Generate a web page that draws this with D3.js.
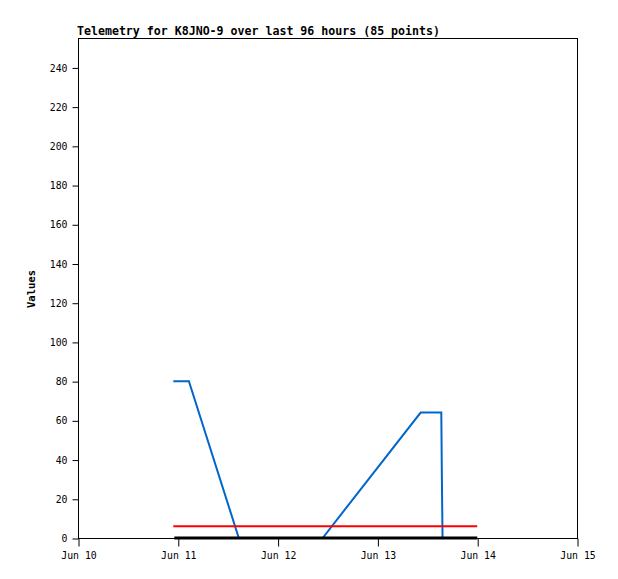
<!DOCTYPE html>
<html>
<head>
<meta charset="utf-8">
<script src="https://cdn.jsdelivr.net/npm/d3@7"></script>
<style>
  body { margin: 0; background: #fff; }
  text { font-family: "DejaVu Sans Mono", monospace; }
</style>
</head>
<body>
<script>
// telemetry series
const blueTimes = ["2024-06-10T22:55", "2024-06-11T02:40", "2024-06-11T14:40", "2024-06-12T10:50",
                   "2024-06-13T10:24", "2024-06-13T15:22", "2024-06-13T15:30", "2024-06-13T15:40", "2024-06-14T00:00"];
const blueValues = [80, 80, 0, 0, 64, 64, 32, 0, 0];
const redTimes = ["2024-06-10T22:55", "2024-06-14T00:00"];
const redValues = [6, 6];
const blackTimes = ["2024-06-10T23:10", "2024-06-14T00:00"];
const blackValues = [0, 0];
const yTicks = [0, 20, 40, 60, 80, 100, 120, 140, 160, 180, 200, 220, 240];
const xStart = "2024-06-10T00:00", xEnd = "2024-06-15T00:00";

let margin = {top: 38, left: 78},
    width = 499,
    height = 500;

let parse = d3.utcParse("%Y-%m-%dT%H:%M");
let svg = d3.select("body").append("svg")
    .attr("width", 618).attr("height", 579);
let g = svg.append("g").attr("transform", "translate(" + margin.left + "," + margin.top + ")");

let x = d3.scaleUtc().domain([parse(xStart), parse(xEnd)]).range([0, width]);
let y = d3.scaleLinear().domain([0, 255]).range([height, 0]);

// frame
g.append("rect").attr("x", 0.5).attr("y", 0.5).attr("width", width).attr("height", height)
    .attr("fill", "none").attr("stroke", "#000");

let yAxis = g.append("g").attr("transform", "translate(0.5,0.5)")
    .call(d3.axisLeft(y).tickValues(yTicks).tickSize(6).tickPadding(5));
let xAxis = g.append("g").attr("transform", "translate(0.5," + (height + 0.5) + ")")
    .call(d3.axisBottom(x).ticks(d3.utcDay.every(1)).tickFormat(d3.utcFormat("%b %d")).tickSize(8).tickPadding(6));
[yAxis, xAxis].forEach(function (a) {
    a.select(".domain").remove();
    a.selectAll("line").attr("stroke", "#000");
    a.selectAll("text").attr("fill", "#000").style("font-size", "9.8px").style("font-family", "DejaVu Sans Mono");
});

let line = d3.line().x(function (d) { return x(d[0]); }).y(function (d) { return y(d[1]); });
function series(times, values, color, w) {
    g.append("path")
        .datum(times.map(function (t, i) { return [parse(t), values[i]]; }))
        .attr("d", line).attr("fill", "none").attr("stroke", color).attr("stroke-width", w);
}
series(blueTimes, blueValues, "#0066cc", 2);
series(redTimes, redValues, "#ff0000", 2);
series(blackTimes, blackValues, "#000000", 3);

svg.append("text").attr("x", 77).attr("y", 35)
    .style("font-size", "11.6px").style("font-weight", "bold")
    .text("Telemetry for K8JNO-9 over last 96 hours (85 points)");

svg.append("text").attr("transform", "translate(35,289) rotate(-90)")
    .attr("text-anchor", "middle")
    .style("font-size", "10.5px").style("font-weight", "bold")
    .text("Values");
</script>
</body>
</html>
